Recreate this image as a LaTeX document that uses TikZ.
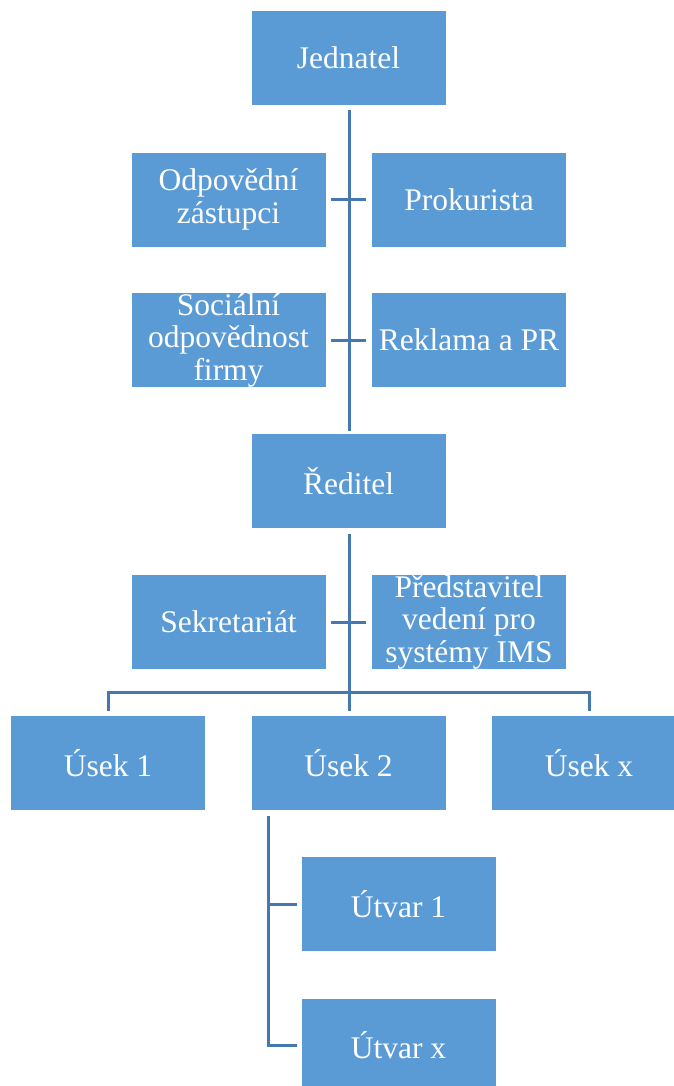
\documentclass[tikz,border=0pt]{standalone}
\usepackage{fontspec}
\setmainfont{Liberation Serif}
\usetikzlibrary{calc}
\definecolor{boxblue}{HTML}{5B9BD5}
\definecolor{linkblue}{HTML}{4678B0}
\tikzset{
  unit/.style={rectangle, fill=boxblue, draw=white, line width=0.6pt,
    minimum width=195pt, minimum height=95pt, inner sep=0pt,
    text=white, align=center, font=\fontsize{31.5}{32.5}\selectfont},
  link/.style={draw=linkblue, line width=3pt}
}
\begin{document}
\begin{tikzpicture}[x=1pt,y=-1pt]
\useasboundingbox (0,0) rectangle (674,1086);
\clip (0,0) rectangle (674,1086);

% boxes
\node[unit] (jed)  at (348.5,58)   {Jednatel};
\node[unit] (odp)  at (228.5,199.5) {Odpovědní\\zástupci};
\node[unit] (prok) at (469,199.5)  {Prokurista};
\node[unit] (soc)  at (228.5,340)  {Sociální\\odpovědnost\\firmy};
\node[unit] (rekl) at (469,340)    {Reklama a PR};
\node[unit] (red)  at (348.5,481)  {Ředitel};
\node[unit] (sekr) at (228.5,622)  {Sekretariát};
\node[unit] (pred) at (469,622)    {Představitel\\vedení pro\\systémy IMS};
\node[unit] (us1)  at (108,763)    {Úsek 1};
\node[unit] (us2)  at (348.5,763)  {Úsek 2};
\node[unit] (usx)  at (589,763)    {Úsek x};
\node[unit] (ut1)  at (398.5,904)  {Útvar 1};
\node[unit] (utx)  at (398.5,1045.5) {Útvar x};

% top spine: Jednatel to Ředitel with assistant ticks
\draw[link] ($(jed.south)+(0.5pt,-4pt)$) -- ($(red.north)+(0.5pt,2pt)$);
\draw[link] ($(odp.east)+(5pt,0)$) -- ($(prok.west)+(-5pt,0)$);
\draw[link] ($(soc.east)+(5pt,0)$) -- ($(rekl.west)+(-5pt,0)$);

% Ředitel to assistants and divisions
\coordinate (bus) at ($(red.south)+(0.5pt,-164pt)$);
\draw[link] ($(red.south)+(0.5pt,-5pt)$) -- ($(us2.north)+(0.5pt,4pt)$);
\draw[link] ($(sekr.east)+(5pt,0)$) -- ($(pred.west)+(-5pt,0)$);
\draw[link] ($(us1.north)+(0,4pt)$) |- (bus) -| ($(usx.north)+(0,4pt)$);

% Úsek 2 to its departments
\coordinate (dtop) at ($(us2.south west)+(18pt,-5pt)$);
\draw[link] (dtop) |- ($(utx.west)+(-4pt,0)$);
\draw[link] (dtop |- ut1.west) -- ($(ut1.west)+(-4pt,0)$);
\end{tikzpicture}
\end{document}
